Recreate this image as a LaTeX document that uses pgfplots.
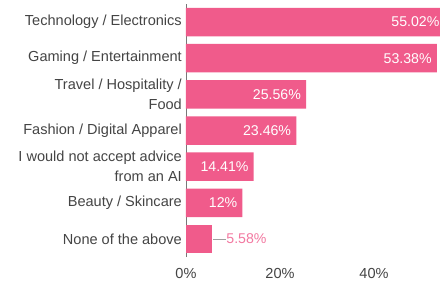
\documentclass[border=0pt]{standalone}
\usepackage{pgfplots}
\pgfplotsset{compat=1.18}
\usepackage{pgfplotstable}
\usepackage{fontspec}
\setmainfont{Liberation Sans}
\definecolor{barpink}{RGB}{240,91,139}
\definecolor{lblpink}{RGB}{242,120,160}
\definecolor{txt}{RGB}{68,68,68}
\definecolor{axgray}{RGB}{120,120,120}
\pgfplotstableread[col sep=comma]{
y,x,m
6,55.02,55.02
5,53.38,53.38
4,25.56,25.56
3,23.46,23.46
2,14.41,14.41
1,12,12
}\inside
\pgfplotstableread[col sep=comma]{
y,x,m
0,5.58,5.58
}\outside
\begin{document}
\begin{tikzpicture}
\useasboundingbox (-186bp,-24bp) rectangle (254bp,257bp);
\begin{axis}[
  at={(0,0)}, anchor=south west,
  scale only axis, width=254bp, height=253bp,
  clip=false,
  xbar, bar width=28.5bp, bar shift=0pt,
  xmin=0, xmax=54.04, ymin=-0.5, ymax=6.5,
  axis lines*=left,
  x axis line style={draw=none},
  y axis line style={draw=axgray, line width=0.8bp},
  major tick length=0pt,
  xtick={0,20,40},
  xticklabels={0\%,20\%,40\%},
  ytick={0,...,6},
  yticklabels={None of the above, Beauty / Skincare, {I would not accept advice\\from an AI}, Fashion / Digital Apparel, {Travel / Hospitality /\\Food}, Gaming / Entertainment, Technology / Electronics},
  yticklabel style={align=right, inner sep=0pt, xshift=-4bp, text=txt, font=\fontsize{14.6}{20}\selectfont},
  xticklabel style={text=txt, font=\fontsize{14.6}{17}\selectfont, inner sep=0pt, yshift=-11bp},
  point meta=explicit symbolic,
]
\addplot[fill=barpink, draw=none,
  nodes near coords={\pgfplotspointmeta\%},
  every node near coord/.append style={anchor=east, text=white, xshift=-5bp, inner sep=0pt, font=\fontsize{14.2}{17}\selectfont}]
  table[x=x, y=y, meta=m]{\inside};
\addplot[fill=barpink, draw=none,
  nodes near coords={{\color{axgray!70}\rule[0.32em]{13bp}{0.7bp}}\pgfplotspointmeta\%},
  every node near coord/.append style={anchor=west, text=lblpink, xshift=1bp, inner sep=0pt, font=\fontsize{14.2}{17}\selectfont}]
  table[x=x, y=y, meta=m]{\outside};
\end{axis}
\end{tikzpicture}
\end{document}
